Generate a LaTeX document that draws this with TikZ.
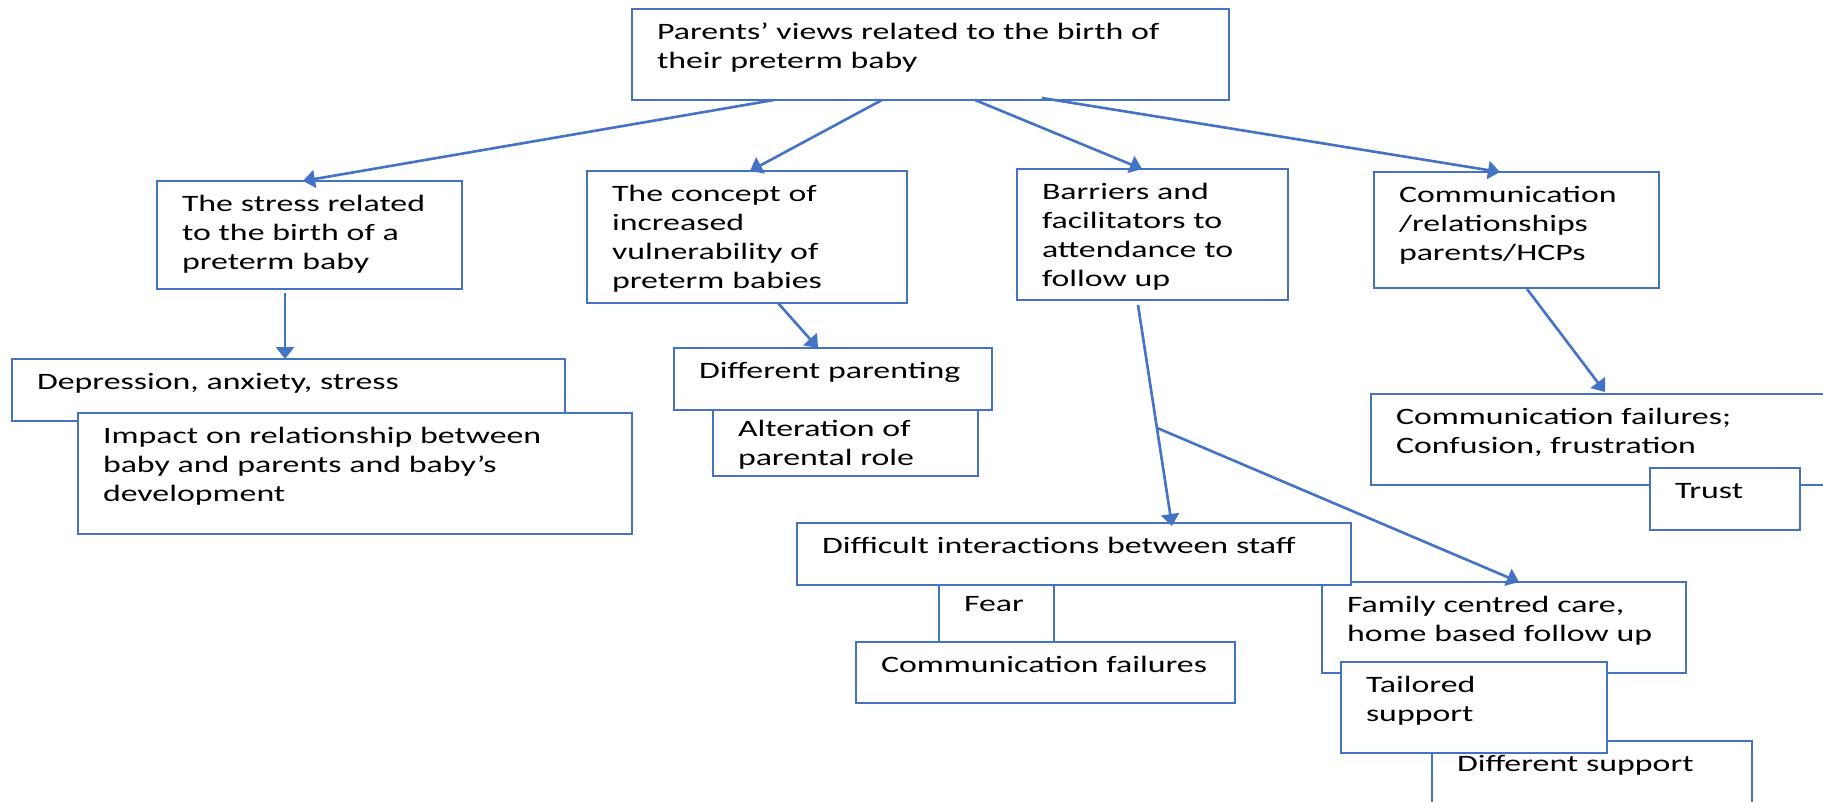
\documentclass[tikz,border=0pt]{standalone}
\usepackage{fontspec}
\setmainfont{Carlito}[FakeStretch=1.44]
\usetikzlibrary{arrows.meta,calc}
\definecolor{ppblue}{RGB}{68,114,196}

\begin{document}
\begin{tikzpicture}[x=1pt,y=-1pt,
  theme/.style 2 args={draw=ppblue,line width=2.3pt,fill=white,anchor=north west,outer sep=0pt,
             inner xsep=25pt,inner ysep=0pt,align=left,text height=30pt,text width=#1,text depth=#2,
             font=\fontsize{23.5pt}{29pt}\selectfont},
  link/.style={ppblue,line width=2.6pt,-{Triangle[length=12pt,width=18pt]}}]
  \useasboundingbox (0,0) rectangle (1823,801);
  \clip (0,0) rectangle (1823,801);
  \node[theme={547pt}{61pt}] (views) at (632,9) {Parents’ views related to the birth of\\their preterm baby};
  \node[theme={255pt}{78pt}] (stress) at (157,181) {The stress related\\to the birth of a\\preterm baby};
  \node[theme={503pt}{32pt}] (depress) at (12,359) {Depression, anxiety, stress};
  \node[theme={504pt}{91pt}] (impact) at (78,413) {Impact on relationship between\\baby and parents and baby’s\\development};
  \node[theme={270pt}{102pt}] (vulner) at (587,171) {The concept of\\increased\\vulnerability of\\preterm babies};
  \node[theme={268pt}{32pt}] (parenting) at (674,348) {Different parenting};
  \node[theme={215pt}{40pt},text height=26pt] (role) at (713,410) {Alteration of\\parental role};
  \node[theme={221pt}{101pt}] (barriers) at (1017,169) {Barriers and\\facilitators to\\attendance to\\follow up};
  \node[theme={235pt}{86pt}] (relation) at (1374,172) {Communication\\/relationships\\parents/HCPs};
  \node[theme={450pt}{61pt}] (confusion) at (1371,394) {Communication failures;\\Confusion, frustration};
  \node[theme={100pt}{32pt}] (trust) at (1650,468) {Trust};
  \node[theme={270pt}{61pt}] (diffsupport) at (1432,741) {Different support};
  \node[theme={314pt}{61pt}] (family) at (1322,582) {Family centred care,\\home based follow up};
  \node[theme={216pt}{61pt}] (tailored) at (1341,662) {Tailored\\support};
  \node[theme={504pt}{32pt}] (staff) at (797,523) {Difficult interactions between staff};
  \node[theme={65pt}{31pt},text height=26pt] (fear) at (939,585) {Fear};
  \node[theme={329pt}{31pt}] (commfail) at (856,642) {Communication failures};
  \draw[link] ([xshift=142pt]views.south west) -- ([xshift=146pt]stress.north west);
  \draw[link] ([xshift=250pt]views.south west) -- ([xshift=163pt]vulner.north west);
  \draw[link] ([xshift=343pt]views.south west) -- ([xshift=125pt]barriers.north west);
  \draw[link] ([xshift=410pt,yshift=2pt]views.south west) -- ([xshift=126pt]relation.north west);
  \draw[link] ([xshift=128pt,yshift=-4pt]stress.south west) -- ([xshift=273pt]depress.north west);
  \draw[link] ([xshift=191pt]vulner.south west) -- ([xshift=144pt]parenting.north west);
  \coordinate (bstart) at ([xshift=121pt,yshift=-5pt]barriers.south west);
  \coordinate (bend) at ([xshift=375pt,yshift=-3pt]staff.north west);
  \coordinate (split) at ($(bstart)!0.556!(bend)$);
  \draw[link] (bstart) -- (bend);
  \draw[link] (split) -- ([xshift=197pt]family.north west);
  \draw[link] ([xshift=153pt,yshift=-1pt]relation.south west) -- ([xshift=234pt,yshift=2pt]confusion.north west);
\end{tikzpicture}
\end{document}
